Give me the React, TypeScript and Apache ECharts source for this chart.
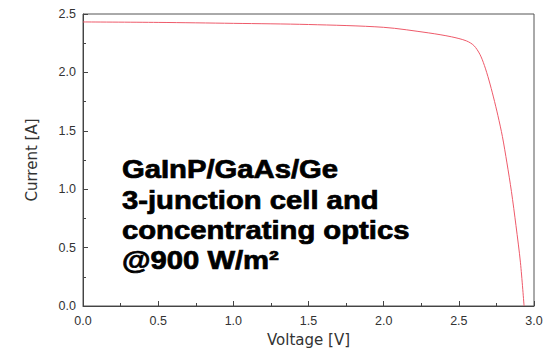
import React, { useEffect, useRef } from "react";
import * as echarts from "echarts";

const voltage = [0, 0.5, 1.0, 1.5, 2.0, 2.3, 2.45, 2.55, 2.6, 2.64, 2.67, 2.7, 2.73, 2.76, 2.79, 2.82, 2.85, 2.88, 2.91, 2.934];
const current = [2.432, 2.428, 2.42, 2.41, 2.386, 2.338, 2.305, 2.27, 2.23, 2.155, 2.06, 1.935, 1.79, 1.63, 1.45, 1.225, 0.98, 0.69, 0.37, 0];
const annotationLines = ["GaInP/GaAs/Ge", "3-junction cell and", "concentrating optics", "@900 W/m²"];
const xAxisTitle = "Voltage [V]";
const yAxisTitle = "Current [A]";

export default function App() {
  const ref = useRef<HTMLDivElement>(null);
  useEffect(() => {
    if (!ref.current) return;
    const chart = echarts.init(ref.current, undefined, { renderer: "svg" });
    const axisCommon = {
      axisLine: { show: true, lineStyle: { color: "#444", width: 1 } },
      axisTick: { show: true, inside: true, length: 5, lineStyle: { color: "#444" } },
      minorTick: { show: true, splitNumber: 2, length: 3, lineStyle: { color: "#444" } },
      splitLine: { show: false },
      axisLabel: {
        color: "#333",
        fontSize: 12.5,
        fontFamily: "'Liberation Sans', Arial, sans-serif",
        formatter: (v: number) => v.toFixed(1),
      },
      nameLocation: "middle" as const,
      nameTextStyle: { color: "#333", fontSize: 15, fontFamily: "'DejaVu Sans', sans-serif" },
    };
    chart.setOption({
      animation: false,
      grid: { left: 83, top: 14, right: 13, bottom: 43, show: true, borderColor: "#555", borderWidth: 1 },
      xAxis: {
        type: "value",
        min: 0,
        max: 3,
        interval: 0.5,
        name: xAxisTitle,
        nameGap: 26,
        ...axisCommon,
        axisLabel: { ...axisCommon.axisLabel, margin: 8 },
      },
      yAxis: {
        type: "value",
        min: 0,
        max: 2.5,
        interval: 0.5,
        name: yAxisTitle,
        nameGap: 44,
        ...axisCommon,
        axisLabel: { ...axisCommon.axisLabel, margin: 7 },
      },
      series: [
        {
          type: "line",
          data: voltage.map((v, i) => [v, current[i]]),
          smooth: 0.3,
          showSymbol: false,
          lineStyle: { color: "#ee5a6a", width: 1 },
        },
      ],
      graphic: annotationLines.map((t, i) => ({
        type: "text",
        x: 122,
        y: 157 + i * 30.3,
        scaleX: 1.17,
        z: 10,
        style: {
          text: t,
          fill: "#000",
          stroke: "#000",
          lineWidth: 0.7,
          font: "bold 25px 'Liberation Sans', Arial, sans-serif",
          textVerticalAlign: "top",
        },
      })),
    });
    return () => chart.dispose();
  }, []);
  return <div ref={ref} style={{ width: 547, height: 352, position: "absolute", left: 0, top: 0, background: "#fff" }} />;
}
